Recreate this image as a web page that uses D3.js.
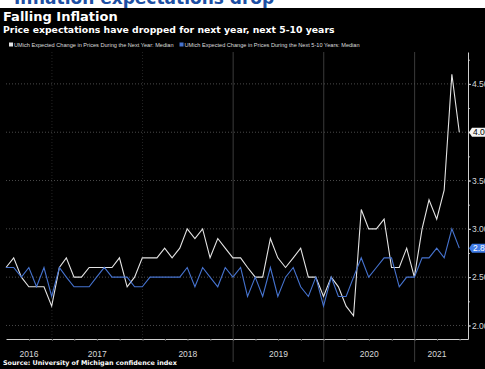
<!DOCTYPE html>
<html>
<head>
<meta charset="utf-8">
<script src="https://cdn.jsdelivr.net/npm/d3@7/dist/d3.min.js"></script>
<style>
  body { margin: 0; background: #000; }
  svg { display: block; }
</style>
</head>
<body>
<svg id="chart"></svg>
<script>
const width = 485;
const height = 369;

// monthly readings, June 2016 .. June 2021
const firstMonth = new Date(2016, 5, 1);
const lastMonth = new Date(2021, 5, 1);
const nextYear = [
  2.6, 2.7, 2.5, 2.4, 2.4, 2.4, 2.2,
  2.6, 2.7, 2.5, 2.5, 2.6, 2.6, 2.6, 2.6, 2.7, 2.4, 2.5, 2.7,
  2.7, 2.7, 2.8, 2.7, 2.8, 3.0, 2.9, 3.0, 2.7, 2.9, 2.8, 2.7,
  2.7, 2.6, 2.5, 2.5, 2.9, 2.7, 2.6, 2.7, 2.8, 2.5, 2.5, 2.3,
  2.5, 2.4, 2.2, 2.1, 3.2, 3.0, 3.0, 3.1, 2.6, 2.6, 2.8, 2.5,
  3.0, 3.3, 3.1, 3.4, 4.6, 4.0
];
const next5to10 = [
  2.6, 2.6, 2.5, 2.6, 2.4, 2.6, 2.3,
  2.6, 2.5, 2.4, 2.4, 2.4, 2.5, 2.6, 2.5, 2.5, 2.5, 2.4, 2.4,
  2.5, 2.5, 2.5, 2.5, 2.5, 2.6, 2.4, 2.6, 2.5, 2.4, 2.6, 2.5,
  2.6, 2.3, 2.5, 2.3, 2.6, 2.3, 2.5, 2.6, 2.4, 2.3, 2.5, 2.2,
  2.5, 2.3, 2.3, 2.5, 2.7, 2.5, 2.6, 2.7, 2.7, 2.4, 2.5, 2.5,
  2.7, 2.7, 2.8, 2.7, 3.0, 2.8
];
const yTicks = [2.0, 2.5, 3.0, 3.5, 4.0, 4.5];
const years = [2016, 2017, 2018, 2019, 2020, 2021];
const legendLabels = [
  "UMich Expected Change in Prices During the Next Year: Median",
  "UMich Expected Change in Prices During the Next 5-10 Years: Median"
];
const colors = ["#e4e4e4", "#4673cf"];

const svg = d3.select("#chart").attr("width", width).attr("height", height);
svg.append("rect").attr("width", width).attr("height", height).attr("fill", "#000");

// clipped headline strip at the very top
svg.append("clipPath").attr("id", "topclip")
  .append("rect").attr("width", width).attr("height", 8);
svg.append("rect").attr("width", width).attr("height", 8).attr("fill", "#fff");
svg.append("text")
  .attr("clip-path", "url(#topclip)")
  .attr("x", 14).attr("y", 4)
  .attr("fill", "#1d4fa3")
  .style("font", "bold 17px 'DejaVu Sans', sans-serif")
  .text("Inflation expectations drop");

// titles
svg.append("text").attr("x", 3).attr("y", 21)
  .attr("fill", "#fff")
  .style("font", "bold 13px 'DejaVu Sans', sans-serif")
  .text("Falling Inflation");
svg.append("text").attr("x", 3).attr("y", 33)
  .attr("fill", "#fff")
  .style("font", "bold 9.3px 'DejaVu Sans', sans-serif")
  .text("Price expectations have dropped for next year, next 5-10 years");

// legend
let lx = 9;
legendLabels.forEach((label, i) => {
  svg.append("rect").attr("x", lx).attr("y", 42.5).attr("width", 4).attr("height", 4)
    .attr("fill", colors[i]);
  const t = svg.append("text").attr("x", lx + 5).attr("y", 46.5)
    .attr("fill", "#ddd")
    .style("font", "5.6px 'Liberation Sans', Arial, sans-serif")
    .text(label);
  lx += 5 + t.node().getComputedTextLength() + 6;
});

// scales
const plotLeft = 6, plotRight = 468, plotTop = 52, plotBottom = 339;
const x = d3.scaleTime()
  .domain([new Date(2016, 5, 30), new Date(2021, 7, 4)])
  .range([plotLeft, plotRight]);
const y = d3.scaleLinear().domain([1.86, 4.83]).range([plotBottom, plotTop]);

const months = d3.timeMonth.range(firstMonth, d3.timeMonth.offset(lastMonth, 1));
const monthEnd = m => d3.timeDay.offset(d3.timeMonth.offset(m, 1), -1);
const seriesList = [nextYear, next5to10].map(vals =>
  months.map((m, i) => ({ date: monthEnd(m), v: vals[i] })));

// horizontal grid
svg.append("g").selectAll("line").data(yTicks).join("line")
  .attr("x1", plotLeft).attr("x2", plotRight)
  .attr("y1", d => y(d)).attr("y2", d => y(d))
  .attr("stroke", "#6a6a6a").attr("stroke-width", 0.7)
  .attr("stroke-dasharray", "1,2");

// vertical year separators
const boundaries = years.slice(1).map(yr => new Date(yr, 0, 1));
svg.append("g").selectAll("line").data(boundaries).join("line")
  .attr("x1", d => x(d)).attr("x2", d => x(d))
  .attr("y1", plotTop).attr("y2", d => d.getFullYear() >= 2019 ? 362 : plotBottom)
  .attr("stroke", d => d.getFullYear() >= 2019 ? "#555" : "#333")
  .attr("stroke-width", 0.7)
  .attr("stroke-dasharray", d => d.getFullYear() >= 2019 ? null : "1,2");

// lines
const line = d3.line().x(d => x(d.date)).y(d => y(d.v));
seriesList.forEach((s, i) => {
  svg.append("path").datum(s)
    .attr("d", line)
    .attr("fill", "none")
    .attr("stroke", colors[i])
    .attr("stroke-width", 1.1)
    .attr("stroke-linejoin", "miter");
});

// bottom axis
const xAxis = svg.append("g")
  .attr("transform", `translate(0,${plotBottom})`)
  .call(d3.axisBottom(x)
    .tickValues(d3.timeMonth.every(3).range(new Date(2016, 8, 1), new Date(2021, 7, 1)))
    .tickSize(2).tickSizeOuter(0).tickFormat(""));
xAxis.select(".domain").attr("stroke", "#cfcfcf").attr("stroke-width", 1);
xAxis.selectAll(".tick line").attr("stroke", "#555");

const lastDate = seriesList[0][seriesList[0].length - 1].date;
svg.append("g").selectAll("text").data(years).join("text")
  .attr("x", yr => {
    const a = d3.max([new Date(yr, 0, 1), x.domain()[0]]);
    const b = d3.min([new Date(yr + 1, 0, 1), lastDate]);
    return (x(a) + x(b)) / 2;
  })
  .attr("y", 357)
  .attr("text-anchor", "middle")
  .attr("fill", "#d8d8d8")
  .style("font", "8.5px 'Liberation Sans', Arial, sans-serif")
  .text(d => d);

// right axis
const minorTicks = d3.range(2.0, 4.76, 0.25);
const yMinor = svg.append("g")
  .attr("transform", `translate(${plotRight},0)`)
  .call(d3.axisRight(y).tickValues(minorTicks).tickSize(2).tickFormat(""));
yMinor.select(".domain").remove();
yMinor.selectAll(".tick line").attr("stroke", "#aaa");

const yAxis = svg.append("g")
  .attr("transform", `translate(${plotRight},0)`)
  .call(d3.axisRight(y).tickValues(yTicks).tickSize(3).tickPadding(1)
    .tickSizeOuter(0).tickFormat(d3.format(".2f")));
yAxis.select(".domain").attr("stroke", "#cfcfcf").attr("stroke-width", 1);
yAxis.selectAll(".tick line").attr("stroke", "#cfcfcf");
yAxis.selectAll(".tick text")
  .attr("fill", "#d8d8d8")
  .style("font", "8.5px 'Liberation Sans', Arial, sans-serif");

// last-value tags
const tagColors = [{ bg: "#f4f4f4", fg: "#000" }, { bg: "#3f7be6", fg: "#fff" }];
seriesList.forEach((s, i) => {
  const last = s[s.length - 1];
  const ty = y(last.v);
  const g = svg.append("g").attr("transform", `translate(${plotRight + 1},${ty})`);
  g.append("path")
    .attr("d", "M0,0 L3,-4.5 L30,-4.5 L30,4.5 L3,4.5 Z")
    .attr("fill", tagColors[i].bg);
  g.append("text").attr("x", 4).attr("y", 3)
    .attr("fill", tagColors[i].fg)
    .style("font", "8.5px 'Liberation Sans', Arial, sans-serif")
    .text(d3.format(".2f")(last.v));
});

// source
svg.append("text").attr("x", 3).attr("y", 365)
  .attr("fill", "#fff")
  .style("font", "bold 6.4px 'DejaVu Sans', sans-serif")
  .text("Source: University of Michigan confidence index");
</script>
</body>
</html>
